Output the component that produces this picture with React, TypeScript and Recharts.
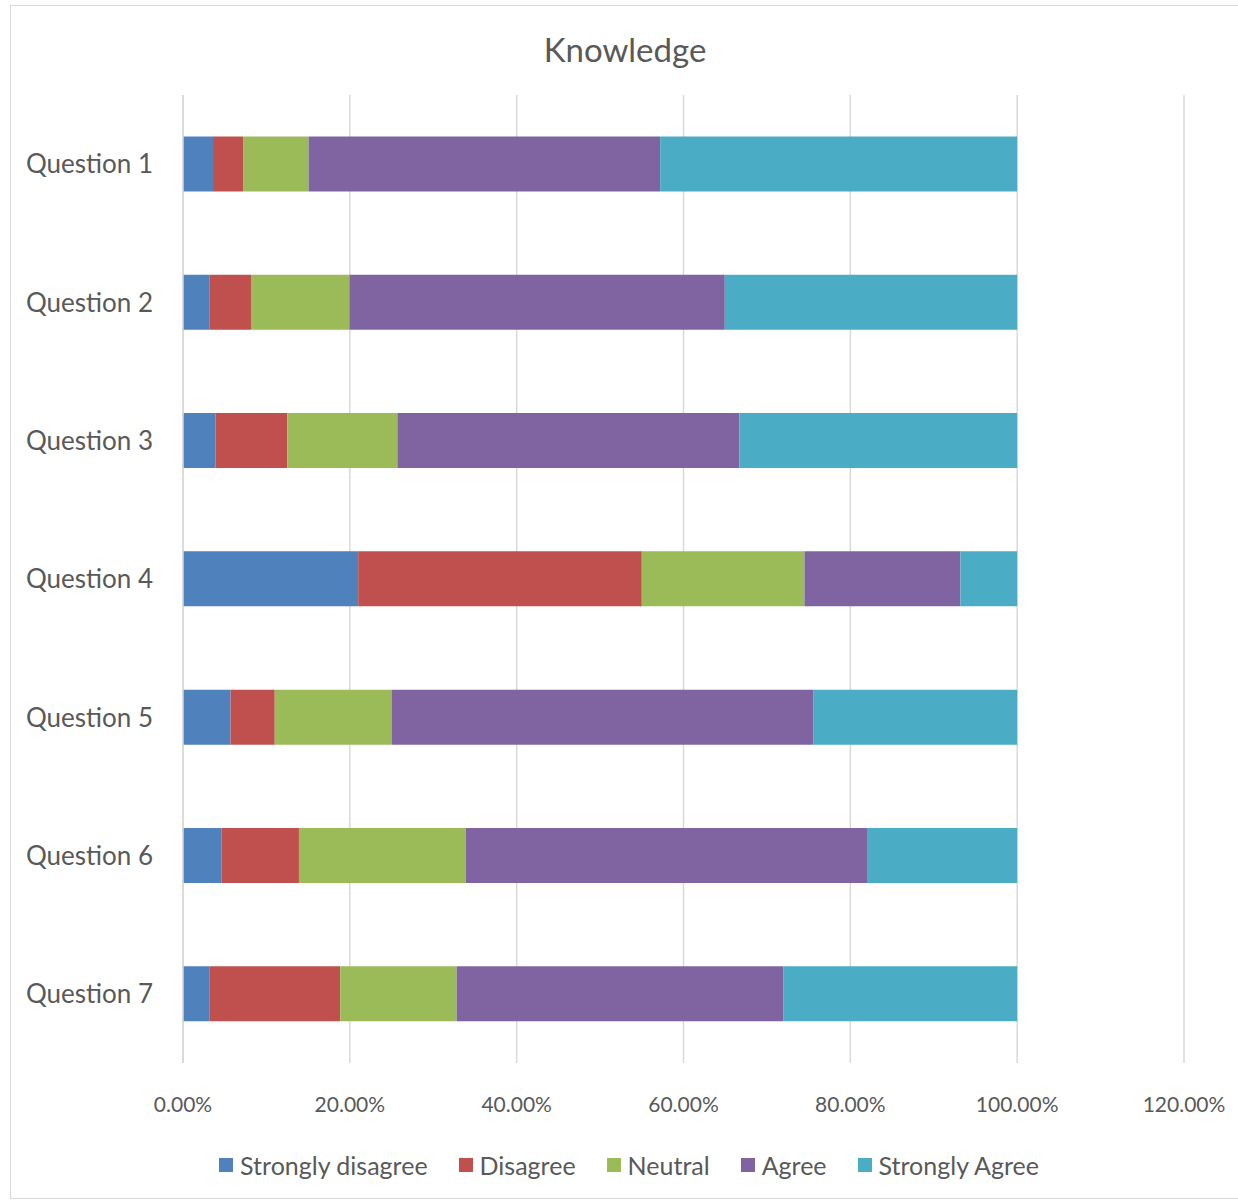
import React from "react";
import { BarChart, Bar, XAxis, YAxis, CartesianGrid, Legend } from "recharts";

// Survey response shares (percent of respondents) per question
const questions = ["Question 1", "Question 2", "Question 3", "Question 4", "Question 5", "Question 6", "Question 7"];
const stronglyDisagree = [3.6, 3.15, 3.9, 21.0, 5.7, 4.6, 3.15];
const disagree = [3.6, 5.0, 8.6, 34.0, 5.3, 9.3, 15.7];
const neutral = [7.85, 11.8, 13.2, 19.5, 14.0, 20.0, 13.95];
const agree = [42.15, 45.0, 41.0, 18.7, 50.6, 48.1, 39.2];
const stronglyAgree = [42.8, 35.05, 33.3, 6.8, 24.4, 18.0, 28.0];
const xTicks = [0, 20, 40, 60, 80, 100, 120];

const seriesInfo = [
  { key: "sd", name: "Strongly disagree", color: "#4F81BD" },
  { key: "d", name: "Disagree", color: "#C0504D" },
  { key: "n", name: "Neutral", color: "#9BBB59" },
  { key: "a", name: "Agree", color: "#8064A2" },
  { key: "sa", name: "Strongly Agree", color: "#4BACC6" },
];

const data = questions.map((q, i) => ({
  q,
  sd: stronglyDisagree[i],
  d: disagree[i],
  n: neutral[i],
  a: agree[i],
  sa: stronglyAgree[i],
}));

const FONT = "Lato, 'Open Sans', sans-serif";
const TEXT = "#595959";

const LegendContent = () => (
  <div
    style={{
      display: "flex",
      justifyContent: "center",
      alignItems: "center",
      fontFamily: FONT,
      fontSize: 25,
      color: TEXT,
      width: "100%",
    }}
  >
    {seriesInfo.map((s, i) => (
      <div key={s.key} style={{ display: "flex", alignItems: "center", marginLeft: i === 0 ? 0 : 31 }}>
        <span style={{ display: "inline-block", width: 14, height: 14, background: s.color, marginRight: 7 }} />
        <span>{s.name}</span>
      </div>
    ))}
  </div>
);

export default function App() {
  return (
    <div style={{ position: "absolute", left: 0, top: 0, width: 1238, height: 1202, background: "#fff", overflow: "hidden" }}>
      <div
        style={{
          position: "absolute",
          left: 10,
          top: 5,
          width: 1240,
          height: 1194,
          border: "1px solid #d9d9d9",
          boxSizing: "border-box",
        }}
      />
      <div
        style={{
          position: "absolute",
          left: 10,
          width: 1230,
          top: 27,
          textAlign: "center",
          fontFamily: FONT,
          fontSize: 33,
          color: TEXT,
          lineHeight: "44px",
        }}
      >
        Knowledge
      </div>
      <div style={{ position: "absolute", left: 0, top: 0 }}>
        <BarChart
          width={1238}
          height={1202}
          data={data}
          layout="vertical"
          barCategoryGap="30%"
          margin={{ top: 95, right: 54, left: 0, bottom: 109 }}
        >
          <CartesianGrid horizontal={false} stroke="#d9d9d9" strokeWidth={1.5} />
          <XAxis
            type="number"
            domain={[0, 120]}
            ticks={xTicks}
            interval={0}
            height={30}
            axisLine={false}
            tickLine={false}
            tickMargin={28}
            tickFormatter={(v: number) => `${v.toFixed(2)}%`}
            tick={{ fontFamily: FONT, fontSize: 21, fill: TEXT }}
          />
          <YAxis
            type="category"
            dataKey="q"
            width={183}
            axisLine={{ stroke: "#d9d9d9", strokeWidth: 1.5 }}
            tickLine={false}
            tickMargin={24}
            tick={{ fontFamily: FONT, fontSize: 26, fill: TEXT }}
          />
          <Legend
            layout="horizontal"
            verticalAlign="middle"
            align="center"
            content={<LegendContent />}
            wrapperStyle={{ position: "absolute", top: 1150, left: 14, width: 1230 }}
          />
          {seriesInfo.map((s) => (
            <Bar
              key={s.key}
              dataKey={s.key}
              name={s.name}
              stackId="resp"
              fill={s.color}
              isAnimationActive={false}
            />
          ))}
        </BarChart>
      </div>
    </div>
  );
}
